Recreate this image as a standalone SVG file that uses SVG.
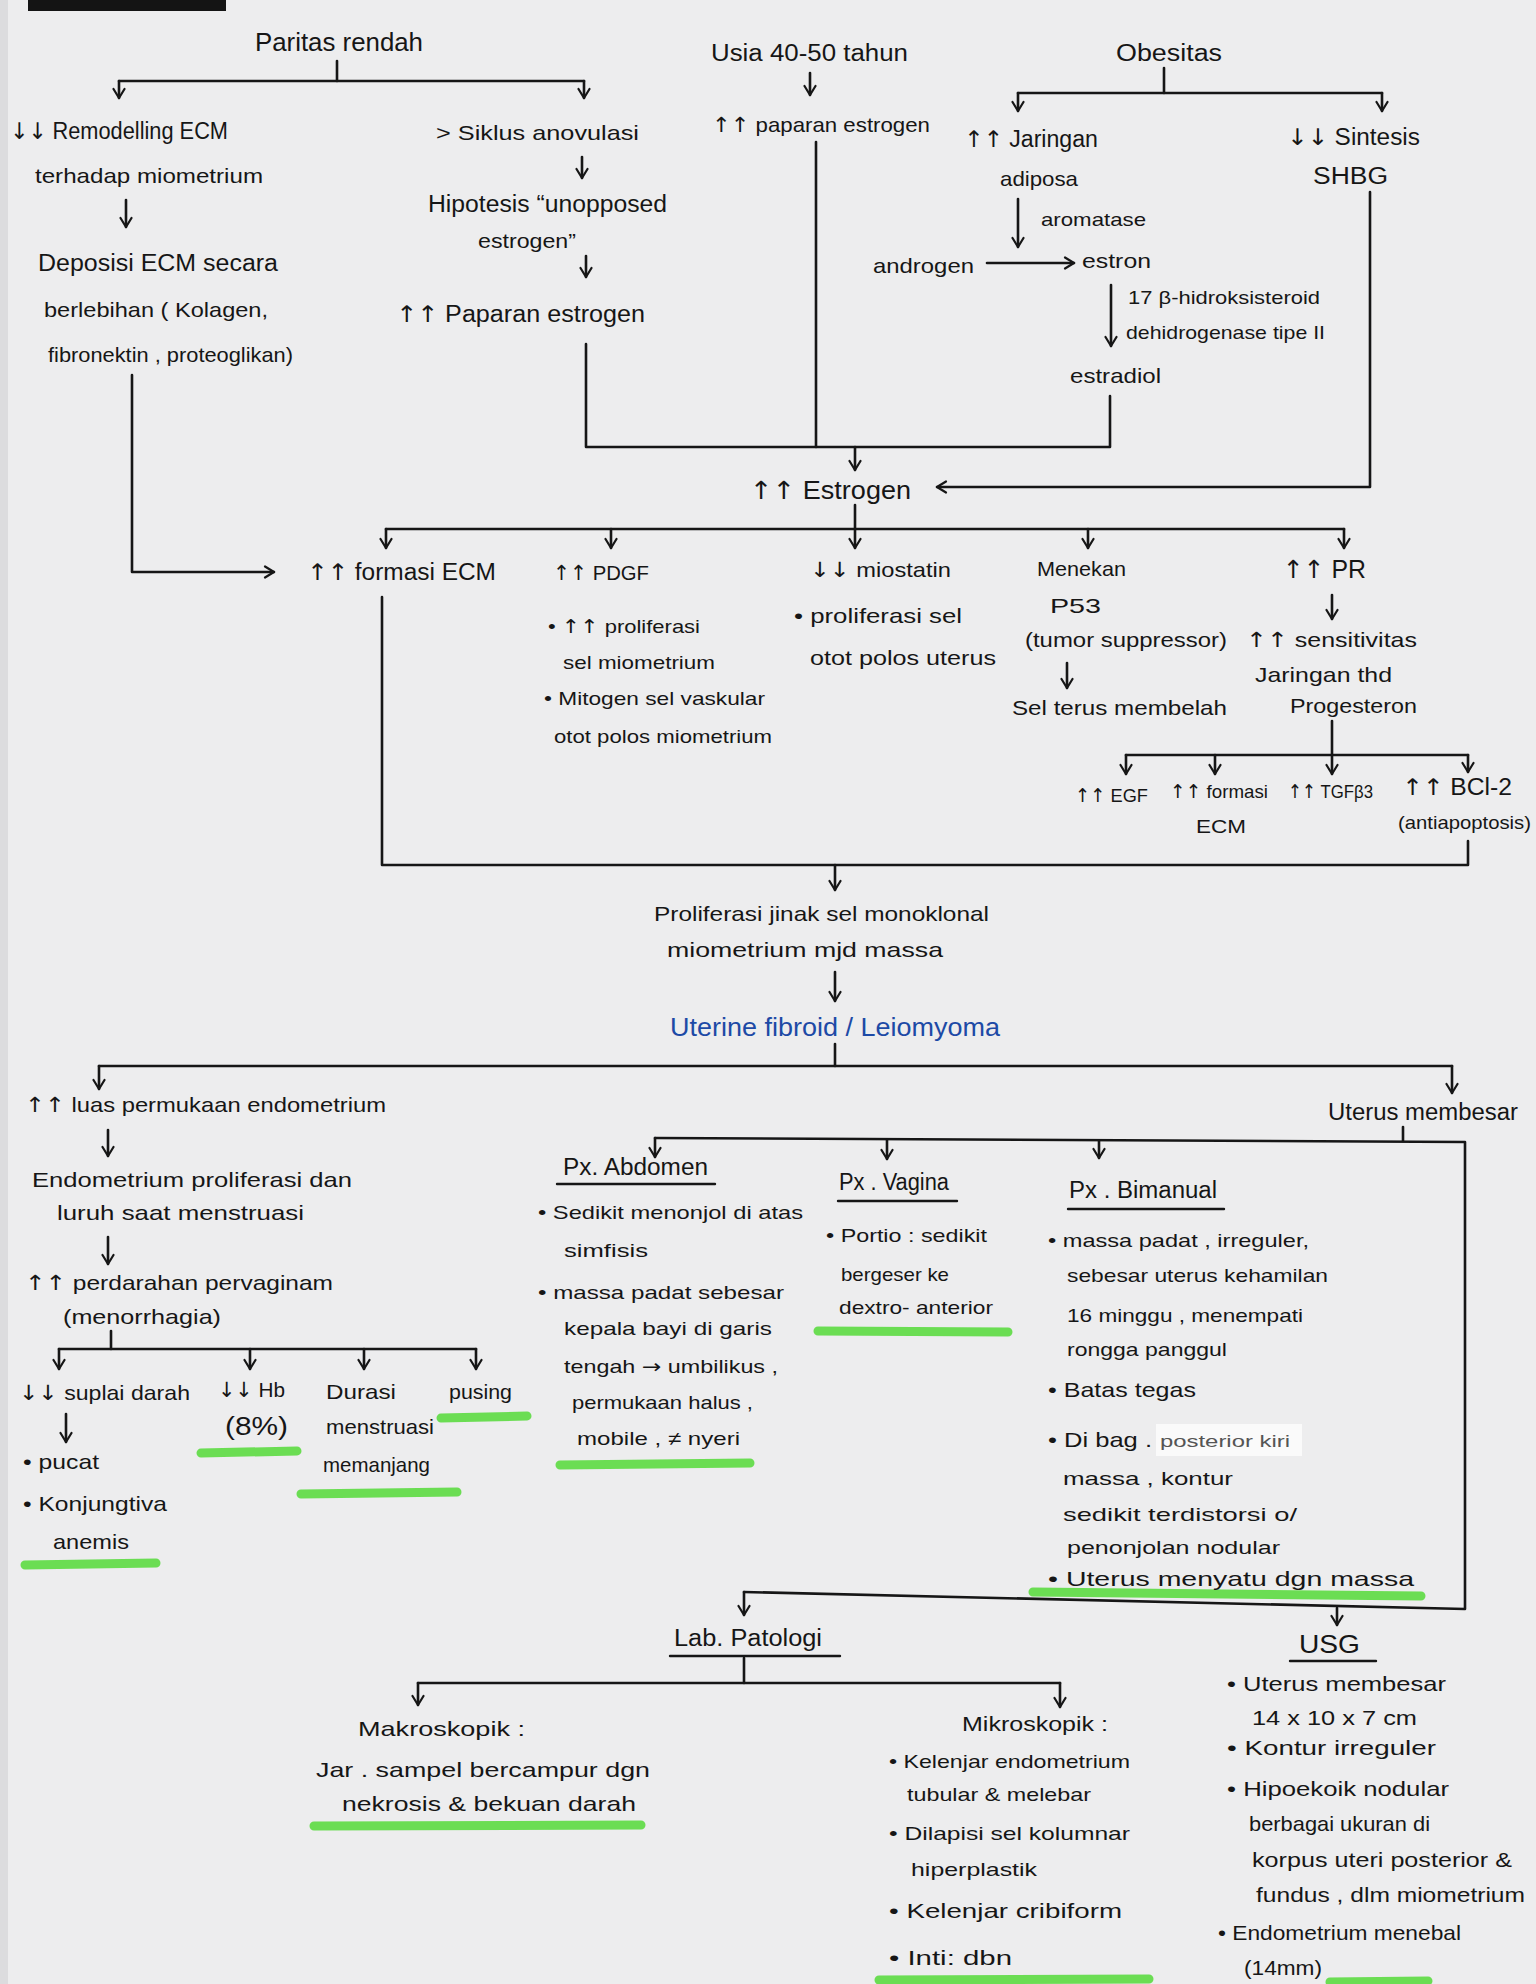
<svg xmlns="http://www.w3.org/2000/svg" width="1536" height="1984" viewBox="0 0 1536 1984">
<style>
.t{font-family:"Liberation Sans","DejaVu Sans",Arial,sans-serif;font-size:21px;fill:#161616}
.s{font-size:19px}
.m{font-size:23px}
.l{font-size:25px}
.b{fill:#1d4aa6}
.ar{font-family:"DejaVu Sans",sans-serif}
.c{fill:none;stroke:#161616;stroke-width:2.6;stroke-linecap:round;stroke-linejoin:round}
.a{marker-end:url(#ah)}
.u{fill:none;stroke:#161616;stroke-width:2.4;stroke-linecap:round}
.g{fill:none;stroke:#5fdb45;stroke-width:9;stroke-linecap:round;opacity:.92}
</style>
<defs>
<marker id="ah" viewBox="0 0 14 14" refX="12" refY="7" markerWidth="14" markerHeight="14" markerUnits="userSpaceOnUse" orient="auto">
<path d="M3,1.5 L12,7 L3,12.5" fill="none" stroke="#161616" stroke-width="2.2" stroke-linecap="round" stroke-linejoin="round"/>
</marker>
</defs>
<rect width="1536" height="1984" fill="#ededee"/>
<rect x="0" y="0" width="8" height="1984" fill="#dcdcde"/>
<rect x="28" y="0" width="198" height="11" fill="#141414"/>

<g id="highlights">
<path class="g" d="M25,1565 L156,1563"/>
<path class="g" d="M201,1453 L297,1451"/>
<path class="g" d="M301,1494 L457,1492"/>
<path class="g" d="M441,1418 L527,1416"/>
<path class="g" d="M560,1465 L750,1463"/>
<path class="g" d="M818,1331 L1008,1332"/>
<path class="g" d="M1033,1592 L1421,1596"/>
<path class="g" d="M314,1826 L641,1825"/>
<path class="g" d="M879,1980 L1149,1979"/>
<path class="g" d="M1330,1982 L1428,1981"/>
</g>

<g id="connectors">
<path class="c" d="M337,61 V81"/>
<path class="c" d="M119,81 H584"/>
<path class="c a" d="M119,81 V98"/>
<path class="c a" d="M584,81 V98"/>
<path class="c a" d="M126,200 V227"/>
<path class="c a" d="M132,375 V572 H274"/>
<path class="c a" d="M582,157 V178"/>
<path class="c a" d="M586,256 V277"/>
<path class="c" d="M586,344 V447 H1110 V396"/>
<path class="c a" d="M810,73 V95"/>
<path class="c" d="M816,142 V447"/>
<path class="c" d="M1164,68 V93"/>
<path class="c" d="M1018,93 H1382"/>
<path class="c a" d="M1018,93 V111"/>
<path class="c a" d="M1382,93 V111"/>
<path class="c a" d="M1018,199 V247"/>
<path class="c a" d="M987,263 H1074"/>
<path class="c a" d="M1111,285 V346"/>
<path class="c a" d="M855,447 V470"/>
<path class="c a" d="M1370,192 V487 H937"/>
<path class="c" d="M855,505 V529"/>
<path class="c" d="M386,529 H1344"/>
<path class="c a" d="M386,529 V548"/>
<path class="c a" d="M611,529 V548"/>
<path class="c a" d="M855,529 V548"/>
<path class="c a" d="M1088,529 V548"/>
<path class="c a" d="M1344,529 V548"/>
<path class="c a" d="M1332,595 V619"/>
<path class="c a" d="M1067,663 V688"/>
<path class="c" d="M1332,721 V755"/>
<path class="c" d="M1126,755 H1468"/>
<path class="c a" d="M1126,755 V774"/>
<path class="c a" d="M1215,755 V774"/>
<path class="c a" d="M1332,755 V774"/>
<path class="c a" d="M1468,755 V772"/>
<path class="c" d="M382,597 V865 H1468 V841"/>
<path class="c a" d="M835,865 V890"/>
<path class="c a" d="M835,972 V1001"/>
<path class="c" d="M835,1044 V1066"/>
<path class="c" d="M99,1066 H1452"/>
<path class="c a" d="M99,1066 V1089"/>
<path class="c a" d="M1452,1066 V1093"/>
<path class="c a" d="M108,1130 V1156"/>
<path class="c a" d="M108,1237 V1264"/>
<path class="c" d="M111,1331 V1349"/>
<path class="c" d="M59,1349 H476"/>
<path class="c a" d="M59,1349 V1369"/>
<path class="c a" d="M250,1349 V1369"/>
<path class="c a" d="M364,1349 V1369"/>
<path class="c a" d="M476,1349 V1369"/>
<path class="c a" d="M66,1414 V1442"/>
<path class="c" d="M1403,1127 V1141"/>
<path class="c" d="M655,1138 L1465,1142 V1609 L744,1592"/>
<path class="c a" d="M655,1138 V1157"/>
<path class="c a" d="M887,1140 V1159"/>
<path class="c a" d="M1099,1141 V1158"/>
<path class="c a" d="M744,1592 V1615"/>
<path class="c a" d="M1337,1608 V1625"/>
<path class="c" d="M744,1658 V1683"/>
<path class="c" d="M418,1683 H1060"/>
<path class="c a" d="M418,1683 V1705"/>
<path class="c a" d="M1060,1683 V1707"/>
</g>

<g id="n-paritas"><text class="t l" x="255" y="51" textLength="168" lengthAdjust="spacingAndGlyphs">Paritas rendah</text></g>
<g id="n-remodelling">
<text class="t m" x="10" y="139" textLength="218" lengthAdjust="spacingAndGlyphs"><tspan class="ar">↓↓</tspan> Remodelling ECM</text>
<text class="t" x="35" y="183" textLength="228" lengthAdjust="spacingAndGlyphs">terhadap miometrium</text>
</g>
<g id="n-deposisi">
<text class="t m" x="38" y="271" textLength="240" lengthAdjust="spacingAndGlyphs">Deposisi ECM secara</text>
<text class="t" x="44" y="317" textLength="224" lengthAdjust="spacingAndGlyphs">berlebihan ( Kolagen,</text>
<text class="t" x="48" y="362" textLength="245" lengthAdjust="spacingAndGlyphs">fibronektin , proteoglikan)</text>
</g>
<g id="n-siklus"><text class="t" x="436" y="140" textLength="203" lengthAdjust="spacingAndGlyphs">&gt; Siklus anovulasi</text></g>
<g id="n-hipotesis">
<text class="t m" x="428" y="212" textLength="239" lengthAdjust="spacingAndGlyphs">Hipotesis “unopposed</text>
<text class="t" x="478" y="248" textLength="98" lengthAdjust="spacingAndGlyphs">estrogen”</text>
</g>
<g id="n-paparan1"><text class="t m" x="396" y="322" textLength="249" lengthAdjust="spacingAndGlyphs"><tspan class="ar">↑↑</tspan> Paparan estrogen</text></g>
<g id="n-usia"><text class="t m" x="711" y="61" textLength="197" lengthAdjust="spacingAndGlyphs">Usia 40-50 tahun</text></g>
<g id="n-paparan2"><text class="t" x="712" y="132" textLength="218" lengthAdjust="spacingAndGlyphs"><tspan class="ar">↑↑</tspan> paparan estrogen</text></g>
<g id="n-obesitas"><text class="t m" x="1116" y="61" textLength="106" lengthAdjust="spacingAndGlyphs">Obesitas</text></g>
<g id="n-jaringan">
<text class="t m" x="964" y="147" textLength="134" lengthAdjust="spacingAndGlyphs"><tspan class="ar">↑↑</tspan> Jaringan</text>
<text class="t" x="1000" y="186" textLength="78" lengthAdjust="spacingAndGlyphs">adiposa</text>
</g>
<g id="n-aromatase"><text class="t s" x="1041" y="226" textLength="105" lengthAdjust="spacingAndGlyphs">aromatase</text></g>
<g id="n-androgen"><text class="t" x="873" y="273" textLength="101" lengthAdjust="spacingAndGlyphs">androgen</text></g>
<g id="n-estron"><text class="t" x="1082" y="268" textLength="69" lengthAdjust="spacingAndGlyphs">estron</text></g>
<g id="n-enzim">
<text class="t s" x="1128" y="304" textLength="192" lengthAdjust="spacingAndGlyphs">17 β-hidroksisteroid</text>
<text class="t s" x="1126" y="339" textLength="199" lengthAdjust="spacingAndGlyphs">dehidrogenase tipe II</text>
</g>
<g id="n-estradiol"><text class="t" x="1070" y="383" textLength="91" lengthAdjust="spacingAndGlyphs">estradiol</text></g>
<g id="n-shbg">
<text class="t m" x="1287" y="145" textLength="133" lengthAdjust="spacingAndGlyphs"><tspan class="ar">↓↓</tspan> Sintesis</text>
<text class="t m" x="1313" y="184" textLength="75" lengthAdjust="spacingAndGlyphs">SHBG</text>
</g>
<g id="n-estrogen"><text class="t l" x="750" y="499" textLength="161" lengthAdjust="spacingAndGlyphs"><tspan class="ar">↑↑</tspan> Estrogen</text></g>
<g id="n-formasi"><text class="t m" x="307" y="580" textLength="189" lengthAdjust="spacingAndGlyphs"><tspan class="ar">↑↑</tspan> formasi ECM</text></g>
<g id="n-pdgf">
<text class="t" x="553" y="580" textLength="96" lengthAdjust="spacingAndGlyphs"><tspan class="ar">↑↑</tspan> PDGF</text>
<text class="t s" x="548" y="633" textLength="152" lengthAdjust="spacingAndGlyphs">• <tspan class="ar">↑↑</tspan> proliferasi</text>
<text class="t s" x="563" y="669" textLength="152" lengthAdjust="spacingAndGlyphs">sel miometrium</text>
<text class="t s" x="544" y="705" textLength="221" lengthAdjust="spacingAndGlyphs">• Mitogen sel vaskular</text>
<text class="t s" x="554" y="743" textLength="218" lengthAdjust="spacingAndGlyphs">otot polos miometrium</text>
</g>
<g id="n-miostatin">
<text class="t" x="810" y="577" textLength="141" lengthAdjust="spacingAndGlyphs"><tspan class="ar">↓↓</tspan> miostatin</text>
<text class="t" x="794" y="623" textLength="168" lengthAdjust="spacingAndGlyphs">• proliferasi sel</text>
<text class="t" x="810" y="665" textLength="186" lengthAdjust="spacingAndGlyphs">otot polos uterus</text>
</g>
<g id="n-p53">
<text class="t" x="1037" y="576" textLength="89" lengthAdjust="spacingAndGlyphs">Menekan</text>
<text class="t" x="1050" y="613" textLength="51" lengthAdjust="spacingAndGlyphs">P53</text>
<text class="t" x="1025" y="647" textLength="202" lengthAdjust="spacingAndGlyphs">(tumor suppressor)</text>
</g>
<g id="n-membelah"><text class="t" x="1012" y="715" textLength="215" lengthAdjust="spacingAndGlyphs">Sel terus membelah</text></g>
<g id="n-pr"><text class="t l" x="1283" y="578" textLength="83" lengthAdjust="spacingAndGlyphs"><tspan class="ar">↑↑</tspan> PR</text></g>
<g id="n-sensitivitas">
<text class="t" x="1246" y="647" textLength="171" lengthAdjust="spacingAndGlyphs"><tspan class="ar">↑↑</tspan> sensitivitas</text>
<text class="t" x="1255" y="682" textLength="137" lengthAdjust="spacingAndGlyphs">Jaringan thd</text>
<text class="t" x="1290" y="713" textLength="127" lengthAdjust="spacingAndGlyphs">Progesteron</text>
</g>
<g id="n-egf"><text class="t s" x="1075" y="802" textLength="73" lengthAdjust="spacingAndGlyphs"><tspan class="ar">↑↑</tspan> EGF</text></g>
<g id="n-formasi2">
<text class="t s" x="1170" y="798" textLength="98" lengthAdjust="spacingAndGlyphs"><tspan class="ar">↑↑</tspan> formasi</text>
<text class="t s" x="1196" y="833" textLength="50" lengthAdjust="spacingAndGlyphs">ECM</text>
</g>
<g id="n-tgf"><text class="t s" x="1288" y="798" textLength="85" lengthAdjust="spacingAndGlyphs"><tspan class="ar">↑↑</tspan> TGFβ3</text></g>
<g id="n-bcl2">
<text class="t m" x="1402" y="795" textLength="110" lengthAdjust="spacingAndGlyphs"><tspan class="ar">↑↑</tspan> BCl-2</text>
<text class="t s" x="1398" y="829" textLength="133" lengthAdjust="spacingAndGlyphs">(antiapoptosis)</text>
</g>
<g id="n-proliferasi">
<text class="t" x="654" y="921" textLength="335" lengthAdjust="spacingAndGlyphs">Proliferasi jinak sel monoklonal</text>
<text class="t" x="667" y="957" textLength="276" lengthAdjust="spacingAndGlyphs">miometrium mjd massa</text>
</g>
<g id="n-fibroid"><text class="t l b" x="670" y="1036" textLength="330" lengthAdjust="spacingAndGlyphs">Uterine fibroid / Leiomyoma</text></g>
<g id="n-luas"><text class="t" x="25" y="1112" textLength="361" lengthAdjust="spacingAndGlyphs"><tspan class="ar">↑↑</tspan> luas permukaan endometrium</text></g>
<g id="n-endometrium">
<text class="t" x="32" y="1187" textLength="320" lengthAdjust="spacingAndGlyphs">Endometrium proliferasi dan</text>
<text class="t" x="57" y="1220" textLength="247" lengthAdjust="spacingAndGlyphs">luruh saat menstruasi</text>
</g>
<g id="n-perdarahan">
<text class="t" x="25" y="1290" textLength="308" lengthAdjust="spacingAndGlyphs"><tspan class="ar">↑↑</tspan> perdarahan pervaginam</text>
<text class="t" x="63" y="1324" textLength="158" lengthAdjust="spacingAndGlyphs">(menorrhagia)</text>
</g>
<g id="n-suplai"><text class="t" x="19" y="1400" textLength="171" lengthAdjust="spacingAndGlyphs"><tspan class="ar">↓↓</tspan> suplai darah</text></g>
<g id="n-pucat">
<text class="t" x="23" y="1469" textLength="76" lengthAdjust="spacingAndGlyphs">• pucat</text>
<text class="t" x="23" y="1511" textLength="144" lengthAdjust="spacingAndGlyphs">• Konjungtiva</text>
<text class="t" x="53" y="1549" textLength="76" lengthAdjust="spacingAndGlyphs">anemis</text>
</g>
<g id="n-hb">
<text class="t" x="218" y="1397" textLength="67" lengthAdjust="spacingAndGlyphs"><tspan class="ar">↓↓</tspan> Hb</text>
<text class="t l" x="225" y="1435" textLength="63" lengthAdjust="spacingAndGlyphs">(8%)</text>
</g>
<g id="n-durasi">
<text class="t" x="326" y="1399" textLength="70" lengthAdjust="spacingAndGlyphs">Durasi</text>
<text class="t" x="326" y="1434" textLength="108" lengthAdjust="spacingAndGlyphs">menstruasi</text>
<text class="t" x="323" y="1472" textLength="107" lengthAdjust="spacingAndGlyphs">memanjang</text>
</g>
<g id="n-pusing"><text class="t" x="449" y="1399" textLength="63" lengthAdjust="spacingAndGlyphs">pusing</text></g>
<g id="n-uterus"><text class="t m" x="1328" y="1120" textLength="190" lengthAdjust="spacingAndGlyphs">Uterus membesar</text></g>
<g id="n-abdomen">
<text class="t m" x="563" y="1175" textLength="145" lengthAdjust="spacingAndGlyphs">Px. Abdomen</text>
<path class="u" d="M557,1184 H715"/>
<text class="t s" x="538" y="1219" textLength="265" lengthAdjust="spacingAndGlyphs">• Sedikit menonjol di atas</text>
<text class="t s" x="564" y="1257" textLength="84" lengthAdjust="spacingAndGlyphs">simfisis</text>
<text class="t s" x="538" y="1299" textLength="246" lengthAdjust="spacingAndGlyphs">• massa padat sebesar</text>
<text class="t s" x="564" y="1335" textLength="208" lengthAdjust="spacingAndGlyphs">kepala bayi di garis</text>
<text class="t s" x="564" y="1373" textLength="214" lengthAdjust="spacingAndGlyphs">tengah <tspan class="ar">→</tspan> umbilikus ,</text>
<text class="t s" x="572" y="1409" textLength="181" lengthAdjust="spacingAndGlyphs">permukaan halus ,</text>
<text class="t s" x="577" y="1445" textLength="163" lengthAdjust="spacingAndGlyphs">mobile , ≠ nyeri</text>
</g>
<g id="n-vagina">
<text class="t m" x="839" y="1190" textLength="110" lengthAdjust="spacingAndGlyphs">Px . Vagina</text>
<path class="u" d="M838,1201 H957"/>
<text class="t s" x="826" y="1242" textLength="161" lengthAdjust="spacingAndGlyphs">• Portio : sedikit</text>
<text class="t s" x="841" y="1281" textLength="108" lengthAdjust="spacingAndGlyphs">bergeser ke</text>
<text class="t s" x="839" y="1314" textLength="154" lengthAdjust="spacingAndGlyphs">dextro- anterior</text>
</g>
<g id="n-bimanual">
<text class="t m" x="1069" y="1198" textLength="148" lengthAdjust="spacingAndGlyphs">Px . Bimanual</text>
<path class="u" d="M1068,1209 H1224"/>
<text class="t s" x="1048" y="1247" textLength="261" lengthAdjust="spacingAndGlyphs">• massa padat , irreguler,</text>
<text class="t s" x="1067" y="1282" textLength="261" lengthAdjust="spacingAndGlyphs">sebesar uterus kehamilan</text>
<text class="t s" x="1067" y="1322" textLength="236" lengthAdjust="spacingAndGlyphs">16 minggu , menempati</text>
<text class="t s" x="1067" y="1356" textLength="160" lengthAdjust="spacingAndGlyphs">rongga panggul</text>
<text class="t" x="1048" y="1397" textLength="148" lengthAdjust="spacingAndGlyphs">• Batas tegas</text>
<rect x="1156" y="1424" width="146" height="32" fill="#fafafa"/>
<text class="t" x="1048" y="1447" textLength="104" lengthAdjust="spacingAndGlyphs">• Di bag .</text>
<text class="t" x="1160" y="1447" style="font-size:17px;fill:#555" textLength="130" lengthAdjust="spacingAndGlyphs">posterior kiri</text>
<text class="t s" x="1063" y="1485" textLength="170" lengthAdjust="spacingAndGlyphs">massa , kontur</text>
<text class="t s" x="1063" y="1521" textLength="234" lengthAdjust="spacingAndGlyphs">sedikit terdistorsi o/</text>
<text class="t s" x="1067" y="1554" textLength="213" lengthAdjust="spacingAndGlyphs">penonjolan nodular</text>
<text class="t" x="1048" y="1586" textLength="366" lengthAdjust="spacingAndGlyphs">• Uterus menyatu dgn massa</text>
</g>
<g id="n-lab">
<text class="t m" x="674" y="1646" textLength="148" lengthAdjust="spacingAndGlyphs">Lab. Patologi</text>
<path class="u" d="M670,1656 H840"/>
</g>
<g id="n-makro">
<text class="t" x="358" y="1736" textLength="167" lengthAdjust="spacingAndGlyphs">Makroskopik :</text>
<text class="t" x="316" y="1777" textLength="334" lengthAdjust="spacingAndGlyphs">Jar . sampel bercampur dgn</text>
<text class="t" x="342" y="1811" textLength="294" lengthAdjust="spacingAndGlyphs">nekrosis &amp; bekuan darah</text>
</g>
<g id="n-mikro">
<text class="t" x="962" y="1731" textLength="146" lengthAdjust="spacingAndGlyphs">Mikroskopik :</text>
<text class="t s" x="889" y="1768" textLength="241" lengthAdjust="spacingAndGlyphs">• Kelenjar endometrium</text>
<text class="t s" x="907" y="1801" textLength="184" lengthAdjust="spacingAndGlyphs">tubular &amp; melebar</text>
<text class="t s" x="889" y="1840" textLength="241" lengthAdjust="spacingAndGlyphs">• Dilapisi sel kolumnar</text>
<text class="t s" x="911" y="1876" textLength="126" lengthAdjust="spacingAndGlyphs">hiperplastik</text>
<text class="t" x="889" y="1918" textLength="233" lengthAdjust="spacingAndGlyphs">• Kelenjar cribiform</text>
<text class="t" x="889" y="1965" textLength="123" lengthAdjust="spacingAndGlyphs">• Inti: dbn</text>
</g>
<g id="n-usg">
<text class="t l" x="1299" y="1653" textLength="61" lengthAdjust="spacingAndGlyphs">USG</text>
<path class="u" d="M1290,1661 H1376"/>
<text class="t" x="1227" y="1691" textLength="219" lengthAdjust="spacingAndGlyphs">• Uterus membesar</text>
<text class="t" x="1252" y="1725" textLength="165" lengthAdjust="spacingAndGlyphs">14 x 10 x 7 cm</text>
<text class="t" x="1227" y="1755" textLength="209" lengthAdjust="spacingAndGlyphs">• Kontur irreguler</text>
<text class="t" x="1227" y="1796" textLength="222" lengthAdjust="spacingAndGlyphs">• Hipoekoik nodular</text>
<text class="t" x="1249" y="1831" textLength="181" lengthAdjust="spacingAndGlyphs">berbagai ukuran di</text>
<text class="t" x="1252" y="1867" textLength="260" lengthAdjust="spacingAndGlyphs">korpus uteri posterior &amp;</text>
<text class="t" x="1256" y="1902" textLength="269" lengthAdjust="spacingAndGlyphs">fundus , dlm miometrium</text>
<text class="t" x="1218" y="1940" textLength="243" lengthAdjust="spacingAndGlyphs">• Endometrium menebal</text>
<text class="t" x="1244" y="1975" textLength="78" lengthAdjust="spacingAndGlyphs">(14mm)</text>
</g>
</svg>
